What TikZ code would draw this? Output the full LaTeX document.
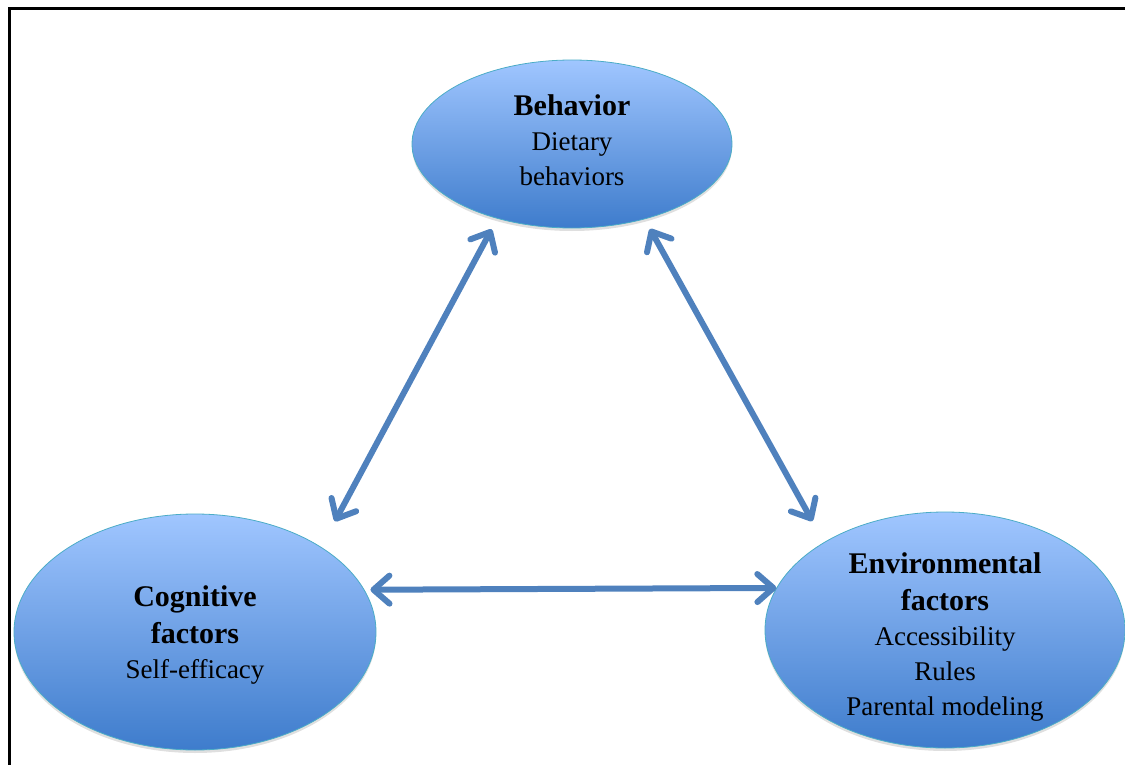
\documentclass[tikz,border=0pt]{standalone}
\usepackage{fontspec}
\setmainfont{Liberation Serif}
\usetikzlibrary{shapes,arrows.meta,shadows}
\definecolor{arrowblue}{RGB}{79,129,189}
\definecolor{blobtop}{RGB}{160,198,255}
\definecolor{blobbot}{RGB}{62,124,204}
\definecolor{blobline}{RGB}{75,172,198}
\newcommand{\hdfont}{\fontsize{30}{38}\selectfont\bfseries}

\begin{document}
\begin{tikzpicture}[x=1pt,y=-1pt,
  blob/.style={ellipse,draw=blobline,line width=0.8pt,top color=blobtop,bottom color=blobbot,inner sep=0pt,
    drop shadow={opacity=0.25,shadow xshift=0pt,shadow yshift=-3pt}},
  lbl/.style={align=center,font=\fontsize{27}{35}\selectfont},
  link/.style={arrowblue,line width=6pt,line cap=round,
    {Straight Barb[length=16pt,width=28pt,line width=6pt,round]}-{Straight Barb[length=16pt,width=28pt,line width=6pt,round]}}]
\useasboundingbox (0,0) rectangle (1125,765);
\clip (0,0) rectangle (1125,765);
% frame (cut off at right and bottom)
\draw[line width=3pt] (9,790) |- (1150,8.5);

\node[blob,minimum width=320pt,minimum height=168pt] (beh) at (572,144) {};
\node[lbl] (behtxt) at ([yshift=4pt]beh.center) {{\hdfont Behavior}\\Dietary\\behaviors};
\node[blob,minimum width=362pt,minimum height=236pt] (cog) at (195,632) {};
\node[lbl] (cogtxt) at ([yshift=-3pt]cog.center) {{\hdfont Cognitive}\\[2pt]{\hdfont factors}\\Self-efficacy};
\node[blob,minimum width=360pt,minimum height=236pt] (env) at (945,630) {};
\node[lbl] (envtxt) at ([yshift=-7pt]env.center) {{\hdfont Environmental}\\[2pt]{\hdfont factors}\\Accessibility\\Rules\\Parental modeling};

\draw[link,shorten <=29pt,shorten >=12pt] (cog.34) -- (beh.225);
\draw[link,shorten <=11pt,shorten >=24pt] (beh.314) -- (env.144);
\draw[link,shorten <=6pt] (cog.14) -- (env.166);
%\draw[link] (cog) -- (env);
\end{tikzpicture}
\end{document}
